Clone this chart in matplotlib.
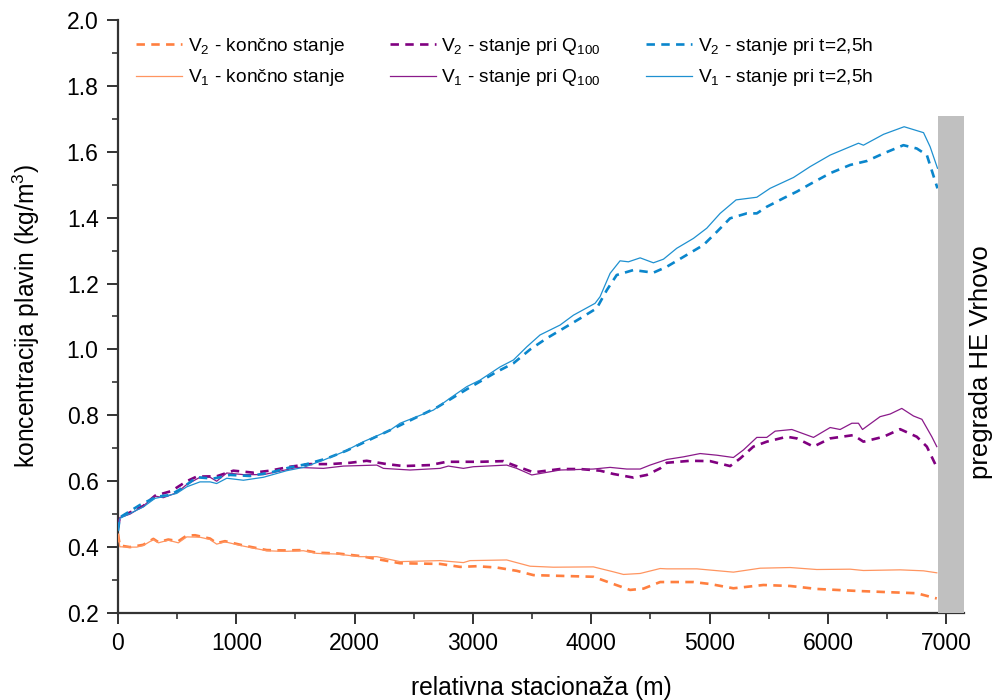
import matplotlib
matplotlib.use("Agg")
import matplotlib.pyplot as plt
from matplotlib.patches import Rectangle
from matplotlib.ticker import MultipleLocator

plt.rcParams['font.family'] = ['Liberation Sans', 'DejaVu Sans']
plt.rcParams['mathtext.fontset'] = 'custom'
plt.rcParams['mathtext.rm'] = 'Liberation Sans'
plt.rcParams['mathtext.it'] = 'Liberation Sans:italic'
plt.rcParams['mathtext.bf'] = 'Liberation Sans:bold'

# ---- data ----
x_v1_t = [0, 15, 101, 214, 313, 383, 496, 581, 693, 778, 834, 919, 1060, 1229, 1426, 1567, 1736, 1905, 2074, 2299,
          2384, 2666, 2806, 2947, 3060, 3229, 3342, 3455, 3567, 3736, 3849, 4032, 4074, 4159, 4243, 4314, 4413, 4525,
          4610, 4722, 4863, 4976, 5089, 5224, 5399, 5511, 5709, 5850, 6019, 6258, 6300, 6470, 6644, 6808, 6864, 6926]
y_v1_t = [0.45, 0.487, 0.502, 0.522, 0.548, 0.553, 0.563, 0.583, 0.598, 0.598, 0.593, 0.609, 0.603, 0.612, 0.632,
          0.642, 0.664, 0.689, 0.720, 0.755, 0.776, 0.816, 0.852, 0.887, 0.907, 0.947, 0.968, 1.008, 1.044, 1.074,
          1.104, 1.14, 1.16, 1.231, 1.269, 1.266, 1.278, 1.263, 1.274, 1.307, 1.337, 1.368, 1.413, 1.454, 1.462,
          1.489, 1.522, 1.555, 1.590, 1.626, 1.62, 1.653, 1.676, 1.658, 1.615, 1.55]

x_v2_t = [0, 15, 186, 327, 440, 538, 665, 806, 947, 1116, 1285, 1454, 1595, 1764, 1933, 2074, 2300, 2500, 2700,
          2947, 3201, 3342, 3483, 3624, 3765, 3905, 4046, 4131, 4215, 4356, 4525, 4638, 4807, 4948, 5061, 5173,
          5314, 5399, 5483, 5624, 5737, 5850, 6019, 6188, 6329, 6470, 6638, 6751, 6836, 6926]
y_v2_t = [0.45, 0.49, 0.528, 0.553, 0.558, 0.578, 0.612, 0.608, 0.619, 0.616, 0.626, 0.642, 0.652, 0.669, 0.693,
          0.717, 0.755, 0.79, 0.825, 0.879, 0.932, 0.958, 1.0, 1.034, 1.064, 1.094, 1.125, 1.18, 1.226, 1.241,
          1.233, 1.251, 1.287, 1.317, 1.357, 1.398, 1.413, 1.413, 1.433, 1.459, 1.479, 1.502, 1.535, 1.56, 1.572,
          1.595, 1.62, 1.61, 1.59, 1.489]

x_v1_q = [0, 15, 101, 214, 313, 383, 496, 581, 693, 778, 834, 919, 1060, 1229, 1426, 1510, 1736, 1905, 2187, 2243,
          2468, 2722, 2792, 2919, 3003, 3285, 3370, 3497, 3736, 4018, 4159, 4300, 4413, 4497, 4638, 4779, 4920,
          5061, 5201, 5286, 5399, 5483, 5554, 5695, 5878, 6019, 6103, 6202, 6258, 6292, 6441, 6526, 6624, 6723,
          6794, 6878, 6920]
y_v1_q = [0.46, 0.49, 0.50, 0.525, 0.555, 0.55, 0.565, 0.59, 0.612, 0.612, 0.60, 0.625, 0.62, 0.62, 0.635, 0.642,
          0.639, 0.646, 0.649, 0.639, 0.634, 0.639, 0.646, 0.639, 0.644, 0.649, 0.639, 0.619, 0.634, 0.637, 0.642,
          0.637, 0.637, 0.649, 0.666, 0.674, 0.684, 0.679, 0.672, 0.695, 0.733, 0.733, 0.752, 0.757, 0.733, 0.763,
          0.757, 0.776, 0.776, 0.757, 0.796, 0.804, 0.821, 0.798, 0.788, 0.735, 0.705]

x_v2_q = [0, 15, 100, 214, 313, 450, 581, 665, 834, 975, 1144, 1285, 1454, 1623, 1792, 1961, 2102, 2271, 2412,
          2637, 2778, 3060, 3257, 3342, 3511, 3736, 3905, 4074, 4187, 4356, 4469, 4582, 4638, 4835, 5004, 5173,
          5258, 5370, 5483, 5652, 5737, 5878, 6019, 6216, 6300, 6470, 6610, 6751, 6836, 6920]
y_v2_q = [0.46, 0.49, 0.505, 0.525, 0.556, 0.57, 0.60, 0.614, 0.615, 0.632, 0.626, 0.632, 0.644, 0.652, 0.652,
          0.656, 0.662, 0.652, 0.646, 0.649, 0.659, 0.659, 0.661, 0.649, 0.627, 0.637, 0.637, 0.632, 0.622, 0.611,
          0.619, 0.639, 0.656, 0.662, 0.661, 0.646, 0.669, 0.705, 0.720, 0.735, 0.730, 0.705, 0.730, 0.740, 0.720,
          0.735, 0.758, 0.735, 0.705, 0.642]

x_v1_k = [0, 15, 101, 158, 214, 299, 341, 425, 510, 581, 693, 778, 834, 904, 1060, 1257, 1398, 1567, 1679, 1848,
          2046, 2187, 2384, 2722, 2919, 2975, 3285, 3483, 3680, 4018, 4187, 4272, 4413, 4582, 4638, 4892, 5201,
          5427, 5681, 5906, 6188, 6300, 6610, 6808, 6920]
y_v1_k = [0.44, 0.401, 0.40, 0.40, 0.405, 0.423, 0.413, 0.421, 0.413, 0.431, 0.43, 0.423, 0.409, 0.416, 0.403,
          0.389, 0.387, 0.389, 0.381, 0.379, 0.371, 0.371, 0.356, 0.359, 0.353, 0.359, 0.361, 0.342, 0.339, 0.340,
          0.325, 0.317, 0.320, 0.335, 0.334, 0.334, 0.324, 0.336, 0.338, 0.332, 0.333, 0.329, 0.331, 0.328, 0.322]

x_v2_k = [0, 15, 101, 214, 299, 341, 425, 510, 581, 651, 778, 834, 904, 1060, 1257, 1398, 1567, 1679, 1848, 2046,
          2215, 2384, 2722, 2891, 3032, 3201, 3370, 3511, 3708, 4018, 4187, 4328, 4441, 4582, 4863, 5004, 5201,
          5455, 5681, 5906, 6244, 6526, 6751, 6920]
y_v2_k = [0.44, 0.405, 0.40, 0.407, 0.425, 0.415, 0.423, 0.418, 0.435, 0.436, 0.426, 0.412, 0.418, 0.405, 0.391,
          0.39, 0.391, 0.383, 0.381, 0.373, 0.362, 0.351, 0.349, 0.340, 0.342, 0.338, 0.328, 0.315, 0.313, 0.31,
          0.288, 0.270, 0.274, 0.294, 0.294, 0.288, 0.275, 0.285, 0.282, 0.273, 0.267, 0.263, 0.26, 0.244]

labels_v2 = [r'V$_2$ - končno stanje', r'V$_2$ - stanje pri Q$_{100}$', r'V$_2$ - stanje pri t=2,5h']
labels_v1 = [r'V$_1$ - končno stanje', r'V$_1$ - stanje pri Q$_{100}$', r'V$_1$ - stanje pri t=2,5h']

# ---- figure ----
fig = plt.figure(figsize=(9.93, 7.0), dpi=100)
ax = fig.add_axes([118 / 993, 87 / 700, 846 / 993, 593 / 700])

c_or = '#FF7F3F'
c_pu = '#800080'
c_bl = '#0A86CC'
c_or_s = '#FF9560'
c_pu_s = '#8A1A8A'
c_bl_s = '#1E90D0'

dash = (3.2, 2.4)
lwd = 1.9
lws = 0.9

h1, = ax.plot(x_v2_k, y_v2_k, color=c_or, lw=lwd, dashes=dash, label=labels_v2[0], zorder=4)
h2, = ax.plot(x_v1_k, y_v1_k, color=c_or_s, lw=lws, label=labels_v1[0], zorder=4)
h3, = ax.plot(x_v2_q, y_v2_q, color=c_pu, lw=lwd, dashes=dash, label=labels_v2[1], zorder=4)
h4, = ax.plot(x_v1_q, y_v1_q, color=c_pu_s, lw=lws, label=labels_v1[1], zorder=4)
h5, = ax.plot(x_v2_t, y_v2_t, color=c_bl, lw=lwd, dashes=dash, label=labels_v2[2], zorder=4)
h6, = ax.plot(x_v1_t, y_v1_t, color=c_bl_s, lw=lws, label=labels_v1[2], zorder=4)

# dam bar
ax.add_patch(Rectangle((6930, 0.2), 220, 1.51, facecolor='#C0C0C0', edgecolor='none', zorder=5, clip_on=False))
ax.text(7295, 0.962, 'pregrada HE Vrhovo', rotation=90, ha='center', va='center', fontsize=18.5)

ax.set_xlim(0, 7150)
ax.set_ylim(0.2, 2.0)
ax.xaxis.set_major_locator(MultipleLocator(1000))
ax.xaxis.set_minor_locator(MultipleLocator(500))
ax.yaxis.set_major_locator(MultipleLocator(0.2))
ax.yaxis.set_minor_locator(MultipleLocator(0.1))
ax.yaxis.set_major_formatter(matplotlib.ticker.FormatStrFormatter('%.1f'))

for s in ['top', 'right']:
    ax.spines[s].set_visible(False)
for s in ['left', 'bottom']:
    ax.spines[s].set_linewidth(1.6)
    ax.spines[s].set_color('#333333')

ax.tick_params(which='major', direction='out', length=8, width=1.4, colors='#333333', labelcolor='black',
               labelsize=16.5, pad=6)
ax.tick_params(which='minor', direction='out', length=4.5, width=1.2, colors='#333333')

ax.set_xlabel('relativna stacionaža (m)', fontsize=17.7, labelpad=15)
ax.set_ylabel(r'koncentracija plavin (kg/m$^3$)', fontsize=17.7, labelpad=18)

leg = ax.legend(handles=[h1, h2, h3, h4, h5, h6], ncol=3, loc='upper left',
                bbox_to_anchor=(132 / 993, 668 / 700), bbox_transform=fig.transFigure,
                frameon=False, fontsize=13.8, handlelength=2.4, handletextpad=0.3,
                columnspacing=2.35, labelspacing=0.55, borderpad=0.2, borderaxespad=0)

fig.savefig('out.png', dpi=100)
